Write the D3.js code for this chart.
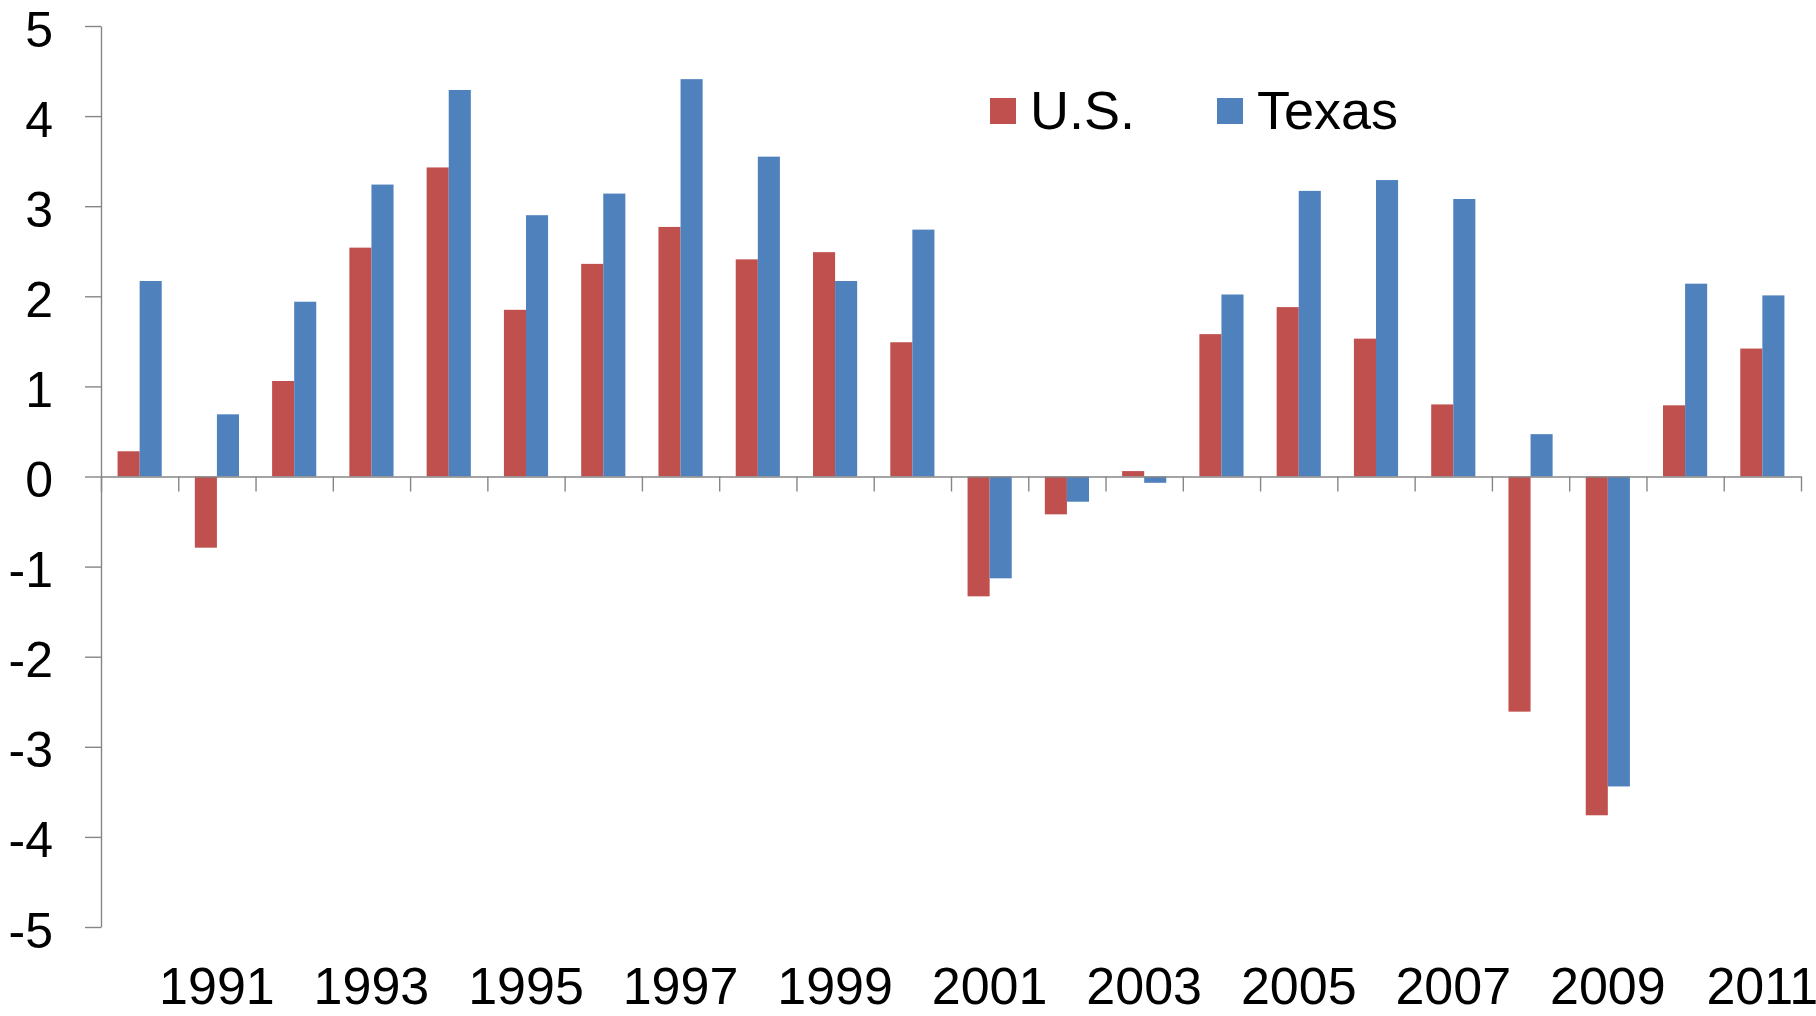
<!DOCTYPE html>
<html>
<head>
<meta charset="utf-8">
<script src="https://cdn.jsdelivr.net/npm/d3@7"></script>
<style>
body { margin: 0; background: #fff; }
text { font-family: "Liberation Sans", Arial, sans-serif; fill: #000; }
.axis path, .axis line { stroke: #868686; stroke-width: 1.4; }
</style>
</head>
<body>
<svg id="chart" width="1816" height="1016"></svg>
<script>

// =========
// Data
// =========

var years = ['1990', '1991', '1992', '1993', '1994', '1995', '1996', '1997', '1998', '1999', '2000',
	     '2001', '2002', '2003', '2004', '2005', '2006', '2007', '2008', '2009', '2010', '2011'];
var us_values = [0.28, -0.79, 1.06, 2.54, 3.43, 1.85, 2.36, 2.77, 2.41, 2.49, 1.49,
		 -1.33, -0.42, 0.06, 1.58, 1.88, 1.53, 0.80, -2.61, -3.76, 0.79, 1.42];
var texas_values = [2.17, 0.69, 1.94, 3.24, 4.29, 2.90, 3.14, 4.41, 3.55, 2.17, 2.74,
		    -1.13, -0.28, -0.07, 2.02, 3.17, 3.29, 3.08, 0.47, -3.44, 2.14, 2.01];
var series_names = ['U.S.', 'Texas'];
var series_colors = ['#C0504D', '#4F81BD'];
var y_ticks = [-5, -4, -3, -2, -1, 0, 1, 2, 3, 4, 5];
var x_labels = ['1991', '1993', '1995', '1997', '1999', '2001', '2003', '2005', '2007', '2009', '2011'];

// =========
// Layout
// =========

var padding = {top: 26, left: 101, right: 15, bottom: 89};
var svg = d3.select('#chart');
var width = +svg.attr('width') - padding.left - padding.right;
var height = +svg.attr('height') - padding.top - padding.bottom;

var plot = svg.append('g')
    .attr('transform', 'translate(' + padding.left + ', ' + padding.top + ')');

var x0 = d3.scaleBand().domain(years).range([0, width]).padding(0);
// excel style: gap of 150% of a bar width between groups
var x1 = d3.scaleBand().domain(series_names).range([0, x0.bandwidth()])
    .paddingInner(0).paddingOuter(0.75);
var y = d3.scaleLinear().domain([-5, 5]).range([height, 0]);
var edges = d3.scaleLinear().domain([0, years.length]).range([0, width]);

// =========
// Bars
// =========

var rows = years.map(function(year, i){
    return [
	{year: year, name: series_names[0], value: us_values[i]},
	{year: year, name: series_names[1], value: texas_values[i]}
    ];
});

var groups = plot.selectAll('.group')
    .data(rows)
    .enter()
    .append('g')
    .attr('class', 'group')
    .attr('transform', function(d){ return 'translate(' + x0(d[0].year) + ', 0)'; });

groups.selectAll('rect')
    .data(function(d){ return d; })
    .enter()
    .append('rect')
    .attr('x', function(d){ return x1(d.name); })
    .attr('width', x1.bandwidth())
    .attr('y', function(d){ return d.value >= 0 ? y(d.value) : y(0); })
    .attr('height', function(d){ return Math.abs(y(d.value) - y(0)); })
    .attr('fill', function(d){ return series_colors[series_names.indexOf(d.name)]; });

// =========
// Axes
// =========

var y_axis = plot.append('g')
    .attr('class', 'axis')
    .call(d3.axisLeft(y).tickValues(y_ticks).tickSize(16).tickSizeOuter(0).tickPadding(32)
	  .tickFormat(function(t){ return t; }));
y_axis.selectAll('text')
    .style('font-size', '50px')
    .attr('dy', '0.4em')
    .attr('fill', '#000');

var x_axis = plot.append('g')
    .attr('class', 'axis')
    .attr('transform', 'translate(0, ' + y(0) + ')')
    .call(d3.axisBottom(edges).tickValues(d3.range(years.length + 1)).tickSize(15)
	  .tickSizeOuter(0).tickFormat(''));

// labels sit low, under the plot, every other year
plot.selectAll('.x-label')
    .data(x_labels)
    .enter()
    .append('text')
    .attr('class', 'x-label')
    .attr('x', function(d){ return x0(d) + x0.bandwidth() / 2; })
    .attr('y', height + 77)
    .attr('text-anchor', 'middle')
    .style('font-size', '52px')
    .text(function(d){ return d; });

// =========
// Legend
// =========

var legend_x = [990, 1217];
var legend = svg.selectAll('.legend')
    .data(series_names)
    .enter()
    .append('g')
    .attr('class', 'legend')
    .attr('transform', function(d, i){ return 'translate(' + legend_x[i] + ', 98)'; });

legend.append('rect')
    .attr('width', 26)
    .attr('height', 26)
    .attr('fill', function(d, i){ return series_colors[i]; });

legend.append('text')
    .attr('x', 40)
    .attr('y', 31)
    .style('font-size', '54px')
    .text(function(d){ return d; });

</script>
</body>
</html>
